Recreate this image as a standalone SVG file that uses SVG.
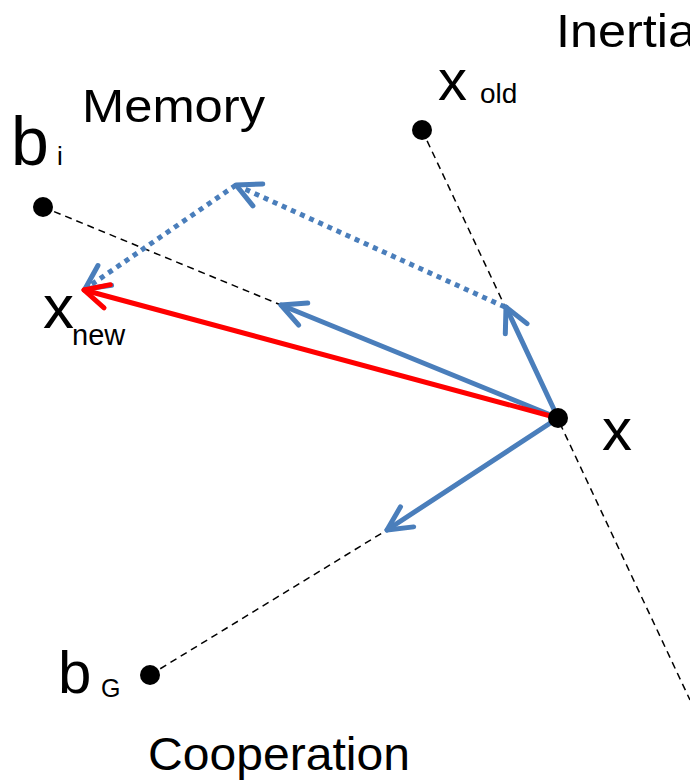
<svg xmlns="http://www.w3.org/2000/svg" width="690" height="782" viewBox="0 0 690 782">
<style>
.t{font-family:"Liberation Sans",Arial,sans-serif;fill:#000}
.guide{stroke:#000;stroke-width:1.5;stroke-dasharray:7 5;fill:none}
.blue{stroke:#4a7ebb;stroke-width:5;fill:none;stroke-linecap:round}
.dot{stroke:#4a7ebb;stroke-width:5;fill:none;stroke-dasharray:5 5}
.red{stroke:#ff0000;stroke-width:5;fill:none;stroke-linecap:round}
</style>
<defs>
<marker id="ab" markerUnits="userSpaceOnUse" viewBox="-30 -20 40 40" refX="0" refY="0" markerWidth="40" markerHeight="40" orient="auto" overflow="visible">
<path d="M-24,-12 L0,0 L-24,12" fill="none" stroke="#4a7ebb" stroke-width="5" stroke-linecap="round" stroke-linejoin="round"/>
</marker>
<marker id="ar" markerUnits="userSpaceOnUse" viewBox="-30 -20 40 40" refX="0" refY="0" markerWidth="40" markerHeight="40" orient="auto" overflow="visible">
<path d="M-24,-12 L0,0 L-24,12" fill="none" stroke="#ff0000" stroke-width="5" stroke-linecap="round" stroke-linejoin="round"/>
</marker>
</defs>
<g id="connectors">
<line class="guide" x1="43" y1="207" x2="281" y2="305"/>
<line class="guide" x1="422" y1="130" x2="690" y2="700"/>
<line class="guide" x1="150" y1="675" x2="387" y2="530"/>
<line class="dot" x1="505" y1="307" x2="236" y2="185" marker-end="url(#ab)"/>
<line class="dot" x1="236" y1="185" x2="85" y2="289" marker-end="url(#ab)"/>
<line class="blue" x1="558" y1="418" x2="281" y2="305" marker-end="url(#ab)"/>
<line class="blue" x1="558" y1="418" x2="506" y2="307" marker-end="url(#ab)"/>
<line class="blue" x1="558" y1="418" x2="387" y2="530" marker-end="url(#ab)"/>
<line class="red" x1="558" y1="418" x2="84" y2="290" marker-end="url(#ar)"/>
</g>
<g id="node-x">
<circle cx="558" cy="418" r="10" fill="#000"/>
<text class="t" x="602" y="450" font-size="60">x</text>
</g>
<g id="node-xold">
<circle cx="422" cy="130" r="10" fill="#000"/>
<text class="t" x="438" y="100" font-size="58">x</text>
<text class="t" x="480" y="103" font-size="28">old</text>
</g>
<g id="node-bi">
<circle cx="43" cy="207" r="10" fill="#000"/>
<text class="t" x="11" y="165" font-size="68">b</text>
<text class="t" x="57" y="165" font-size="26">i</text>
</g>
<g id="node-bG">
<circle cx="150" cy="675" r="10" fill="#000"/>
<text class="t" x="58" y="693" font-size="60">b</text>
<text class="t" x="101" y="697" font-size="25">G</text>
</g>
<g id="node-xnew">
<text class="t" x="43" y="328" font-size="62">x</text>
<text class="t" x="72" y="345" font-size="29">new</text>
</g>
<g id="labels">
<text class="t" x="556" y="47" font-size="46" textLength="140" lengthAdjust="spacingAndGlyphs">Inertia</text>
<text class="t" x="82" y="122" font-size="46" textLength="183" lengthAdjust="spacingAndGlyphs">Memory</text>
<text class="t" x="148" y="770" font-size="46" textLength="262" lengthAdjust="spacingAndGlyphs">Cooperation</text>
</g>
</svg>
